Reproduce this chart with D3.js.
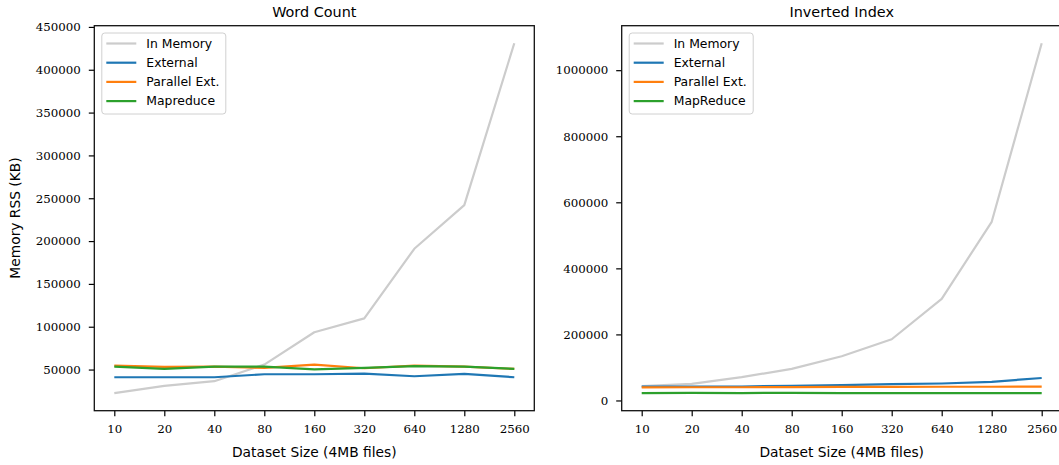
<!DOCTYPE html>
<html>
<head>
<meta charset="utf-8">
<script src="https://cdn.jsdelivr.net/npm/d3@7"></script>
<style>
    body { margin: 0; background: #fff; }
    svg { display: block; }
    .tick-label { font-family: 'DejaVu Serif', serif; font-size: 11.8px; fill: #000; }
    .sans { font-family: 'DejaVu Sans', sans-serif; fill: #000; }
</style>
</head>
<body>
<div class="graph"></div>
<script>
// dataset sizes (number of 4MB files)
var sizes = ['10', '20', '40', '80', '160', '320', '640', '1280', '2560'];

// Word Count, memory RSS in KB
var wcInMemory = [22400, 31000, 36400, 55800, 93500, 109800, 191000, 242000, 431000];
var wcExternal = [41000, 41000, 41000, 44500, 44500, 45300, 42200, 45000, 41000];
var wcParallel = [54700, 53100, 53500, 51900, 55800, 51500, 54700, 53500, 50700];
var wcMapreduce = [53500, 50800, 53500, 53500, 50100, 51900, 53900, 53500, 50800];

// Inverted Index, memory RSS in KB
var iiInMemory = [43300, 50500, 70500, 95800, 134000, 185400, 307500, 541000, 1081700];
var iiExternal = [42300, 42300, 42300, 44400, 46300, 49400, 51400, 56500, 68000];
var iiParallel = [39500, 40000, 40000, 40500, 41000, 41000, 41500, 41500, 42000];
var iiMapreduce = [22000, 23000, 22500, 23000, 22000, 22000, 22000, 22500, 22000];

var wcTicks = [50000, 100000, 150000, 200000, 250000, 300000, 350000, 400000, 450000];
var iiTicks = [0, 200000, 400000, 600000, 800000, 1000000];

var seriesColors = ['#cccccc', '#1f77b4', '#ff7f0e', '#2ca02c'];

var graphWidth = 440;
var graphHeight = 385;

var svg = d3.select('.graph')
    .append('svg')
    .attr('width', 1059)
    .attr('height', 465);

function drawPanel(left, top, title, names, series, ticks) {
    var g = svg.append('g').attr('transform', 'translate(' + left + ',' + top + ')');

    var xScale = d3.scalePoint()
        .domain(sizes)
        .range([0, graphWidth])
        .padding(0.4);

    // matplotlib style 5% margins
    var all = [].concat.apply([], series);
    var lo = d3.min(all), hi = d3.max(all);
    var pad = (hi - lo) * 0.05;
    var yScale = d3.scaleLinear()
        .domain([lo - pad, hi + pad])
        .range([graphHeight, 0]);

    var line = d3.line()
        .x(function (d, i) { return xScale(sizes[i]); })
        .y(function (d) { return yScale(d); });

    series.forEach(function (values, k) {
        g.append('path')
            .datum(values)
            .attr('d', line)
            .attr('fill', 'none')
            .attr('stroke', seriesColors[k])
            .attr('stroke-width', 2.2)
            .attr('stroke-linejoin', 'round');
    });

    var xAxis = d3.axisBottom(xScale).tickSize(5.5).tickPadding(8);
    var gx = g.append('g')
        .attr('transform', 'translate(0,' + graphHeight + ')')
        .call(xAxis);

    var yAxis = d3.axisLeft(yScale).tickValues(ticks).tickFormat(d3.format('d')).tickSize(5.5).tickPadding(8);
    var gy = g.append('g').call(yAxis);

    [gx, gy].forEach(function (a) {
        a.select('.domain').remove();
        a.selectAll('.tick line').attr('stroke', '#000').attr('stroke-width', 1.2);
        a.selectAll('.tick text').attr('class', 'tick-label');
    });

    // frame
    g.append('rect')
        .attr('width', graphWidth)
        .attr('height', graphHeight)
        .attr('fill', 'none')
        .attr('stroke', '#111')
        .attr('stroke-width', 1.3);

    g.append('text')
        .attr('class', 'sans')
        .attr('x', graphWidth / 2)
        .attr('y', -9)
        .attr('text-anchor', 'middle')
        .style('font-size', '14.4px')
        .text(title);

    g.append('text')
        .attr('class', 'sans')
        .attr('x', graphWidth / 2)
        .attr('y', graphHeight + 46)
        .attr('text-anchor', 'middle')
        .style('font-size', '13.8px')
        .text('Dataset Size (4MB files)');

    // legend
    var legend = g.append('g').attr('transform', 'translate(7.5,7.3)');
    legend.append('rect')
        .attr('width', 124)
        .attr('height', 81)
        .attr('rx', 3)
        .attr('fill', '#fff')
        .attr('fill-opacity', 0.8)
        .attr('stroke', '#d0d0d0')
        .attr('stroke-width', 1);

    names.forEach(function (name, k) {
        var yy = 10.5 + k * 19.2;
        legend.append('line')
            .attr('x1', 4.5)
            .attr('x2', 34.5)
            .attr('y1', yy)
            .attr('y2', yy)
            .attr('stroke', seriesColors[k])
            .attr('stroke-width', 2.2);
        legend.append('text')
            .attr('class', 'sans')
            .attr('x', 44.5)
            .attr('y', yy)
            .attr('dy', '0.35em')
            .style('font-size', '12.4px')
            .text(name);
    });

    return g;
}

drawPanel(94.3, 25.7, 'Word Count',
    ['In Memory', 'External', 'Parallel Ext.', 'Mapreduce'],
    [wcInMemory, wcExternal, wcParallel, wcMapreduce], wcTicks);

drawPanel(621.7, 25.7, 'Inverted Index',
    ['In Memory', 'External', 'Parallel Ext.', 'MapReduce'],
    [iiInMemory, iiExternal, iiParallel, iiMapreduce], iiTicks);

svg.append('text')
    .attr('class', 'sans')
    .attr('transform', 'translate(20,218) rotate(-90)')
    .attr('text-anchor', 'middle')
    .style('font-size', '13.8px')
    .text('Memory RSS (KB)');
</script>
</body>
</html>
